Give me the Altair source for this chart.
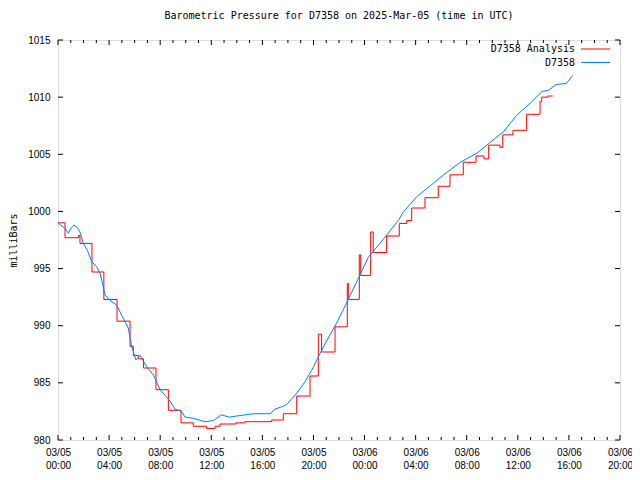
import altair as alt
import pandas as pd

# ---- data (hours since 2025-03-05 00:00 UTC, pressure in mb) ----
series_names = ["D7358 Analysis", "D7358"]
series_colors = ["#ff0000", "#0080ff"]

ana_hours = [0.0, 0.55, 1.6, 1.72, 2.66, 3.59, 4.62, 5.64, 5.9, 6.29, 6.69, 7.67,
             8.64, 9.63, 10.59, 11.64, 12.29, 12.68, 13.94, 14.64, 16.73, 17.64,
             18.69, 19.73, 20.38, 20.64, 21.69, 22.65, 22.73, 23.59, 23.7, 24.48,
             24.68, 25.73, 26.72, 27.3, 27.69, 28.73, 29.77, 30.69, 31.73, 32.73,
             33.35, 33.72, 34.6, 34.82, 35.62, 36.69, 37.74, 37.87, 38.35, 38.73]
ana_mb = [999.0, 997.7, 997.9, 997.2, 994.7, 992.3, 990.4, 988.2, 987.4, 987.1,
          986.3, 984.4, 982.6, 981.5, 981.2, 981.0, 981.2, 981.4, 981.5, 981.6,
          981.75, 982.3, 983.85, 985.6, 989.25, 987.7, 989.9, 993.7, 992.3, 996.2,
          994.4, 998.2, 996.4, 997.85, 998.95, 999.2, 1000.3, 1001.2, 1002.2,
          1003.2, 1004.3, 1004.85, 1004.6, 1005.8, 1005.6, 1006.7, 1007.1, 1008.5,
          1009.6, 1010.0, 1010.1, 1010.1]

obs_hours = [0.0, 0.3, 0.5, 0.81, 1.05, 1.25, 1.5, 1.72, 1.98, 2.3, 2.64, 3.0,
             3.29, 3.5, 3.68, 4.07, 4.6, 4.99, 5.5, 5.77, 6.1, 6.42, 6.94, 7.46,
             7.99, 8.4, 8.77, 9.16, 9.68, 9.94, 10.6, 11.5, 12.16, 12.8, 13.4,
             13.99, 15.3, 16.6, 17.0, 17.5, 17.9, 18.3, 18.7, 19.34, 19.86, 20.0,
             20.8, 21.8, 22.6, 23.5, 24.3, 25.2, 26.0, 26.7, 27.0, 28.1, 29.1,
             30.2, 31.5, 32.8, 33.8, 34.9, 35.9, 37.0, 37.9, 38.4, 39.0, 39.8, 40.3]
obs_mb = [999.0, 998.7, 998.6, 998.1, 998.6, 998.8, 998.6, 998.2, 997.2, 996.6,
          995.6, 995.2, 994.6, 993.6, 992.7, 992.2, 991.8, 990.9, 989.8, 988.2,
          987.0, 987.4, 986.4, 985.7, 984.4, 983.9, 983.4, 982.7, 982.5, 982.0,
          981.9, 981.6, 981.7, 982.2, 982.0, 982.1, 982.3, 982.3, 982.7, 982.9,
          983.1, 983.6, 984.1, 985.1, 986.1, 986.4, 988.2, 990.2, 992.0, 994.1,
          996.0, 997.2, 998.3, 999.3, 999.9, 1001.3, 1002.2, 1003.2, 1004.3,
          1005.1, 1006.0, 1007.0, 1008.4, 1009.5, 1010.5, 1010.6, 1011.1,
          1011.2, 1011.9]

x_major = list(range(0, 45, 4))
x_minor = [h for h in range(0, 45) if h % 4 != 0]
y_ticks = [980, 985, 990, 995, 1000, 1005, 1010, 1015]

W, H = 562, 400
FONT = "DejaVu Sans Mono"

ana = pd.DataFrame({"hours": ana_hours, "mb": ana_mb})
obs = pd.DataFrame({"hours": obs_hours, "mb": obs_mb})
xmaj = pd.DataFrame({"hours": x_major})
xmin = pd.DataFrame({"hours": x_minor})
yt = pd.DataFrame({"mb": y_ticks})

x_enc = alt.X("hours:Q",
              scale=alt.Scale(domain=[0, 44], nice=False, zero=False),
              axis=alt.Axis(values=x_major, title=None, ticks=False, domain=False,
                            grid=False, labelPadding=7, labelBaseline="top",
                            labelLineHeight=13, labelFlush=False, labelOverlap=False,
                            labelExpr="['03/0' + (5 + floor(datum.value / 24)), "
                                      "((datum.value % 24) < 10 ? '0' : '') + "
                                      "(datum.value % 24) + ':00']"))
y_enc = alt.Y("mb:Q",
              scale=alt.Scale(domain=[980, 1015], nice=False, zero=False),
              axis=alt.Axis(values=y_ticks, format="d", title="milliBars",
                            ticks=False, domain=False, grid=False, labelPadding=8,
                            labelFlush=False, titleAngle=-90, titleX=-45,
                            titleY=H / 2, titleAlign="center",
                            titleBaseline="middle", titleFontWeight="normal",
                            titleFont=FONT, titleFontSize=10))

red = alt.Chart(ana).mark_line(interpolate="step-after", color=series_colors[0],
                               strokeWidth=1).encode(x=x_enc, y=y_enc)
blue = alt.Chart(obs).mark_line(color=series_colors[1], strokeWidth=1).encode(
    x=x_enc, y=y_enc)

tick_style = dict(color="black", strokeWidth=1)
xt_maj_b = alt.Chart(xmaj).mark_rule(**tick_style).encode(
    x=x_enc, y=alt.value(H), y2=alt.value(H - 5))
xt_maj_t = alt.Chart(xmaj).mark_rule(**tick_style).encode(
    x=x_enc, y=alt.value(0), y2=alt.value(5))
xt_min_b = alt.Chart(xmin).mark_rule(**tick_style).encode(
    x=x_enc, y=alt.value(H), y2=alt.value(H - 3))
xt_min_t = alt.Chart(xmin).mark_rule(**tick_style).encode(
    x=x_enc, y=alt.value(0), y2=alt.value(3))
yt_l = alt.Chart(yt).mark_rule(**tick_style).encode(
    y=y_enc, x=alt.value(0), x2=alt.value(5))
yt_r = alt.Chart(yt).mark_rule(**tick_style).encode(
    y=y_enc, x=alt.value(W - 5), x2=alt.value(W))

leg_layers = []
for i, (name, col) in enumerate(zip(series_names, series_colors)):
    ly = 9 + i * 13.5
    ld = pd.DataFrame({"name": [name]})
    leg_layers.append(alt.Chart(ld).mark_text(
        align="right", baseline="middle", font=FONT, fontSize=10, color="black"
    ).encode(text="name:N", x=alt.value(517), y=alt.value(ly)))
    leg_layers.append(alt.Chart(ld).mark_rule(color=col, strokeWidth=1).encode(
        x=alt.value(523), x2=alt.value(552), y=alt.value(ly)))

chart = alt.layer(
    red, blue, xt_maj_b, xt_maj_t, xt_min_b, xt_min_t, yt_l, yt_r, *leg_layers
).properties(
    width=W, height=H,
    title=alt.TitleParams("Barometric Pressure for D7358 on 2025-Mar-05 (time in UTC)",
                          font=FONT, fontSize=10, fontWeight="normal",
                          anchor="middle", offset=14, color="black"),
    autosize=alt.AutoSizeParams(type="none"),
    padding={"left": 50, "top": 32, "right": 12, "bottom": 32},
).configure_view(
    stroke="black", strokeWidth=1
).configure_axis(
    labelFont=FONT, labelFontSize=10, labelColor="black",
    titleFont=FONT, titleFontSize=10, titleColor="black", titleFontWeight="normal"
).configure(background="white")

chart.save("out.html", embed_options={"renderer": "svg", "actions": False})
